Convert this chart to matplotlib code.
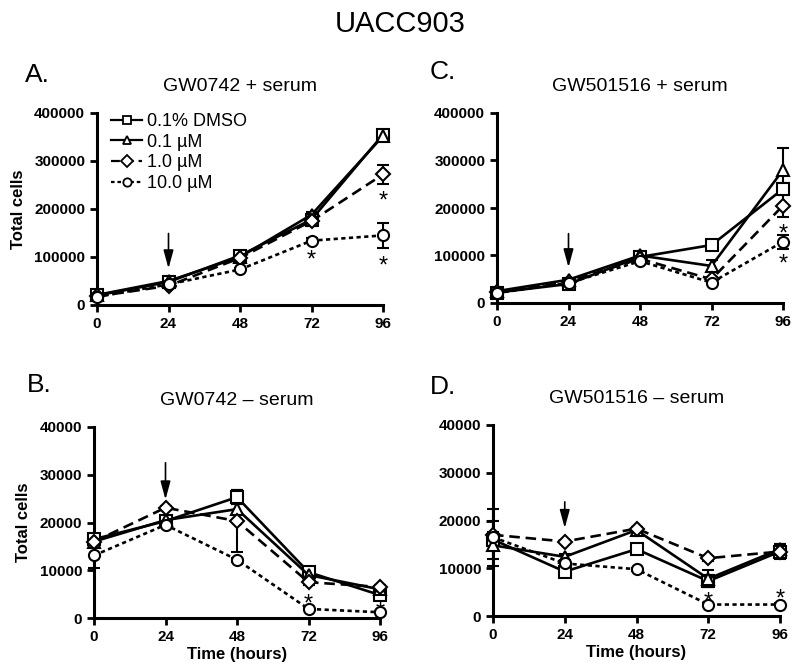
import numpy as np
import matplotlib
matplotlib.use("Agg")
import matplotlib.pyplot as plt
from matplotlib.lines import Line2D
from matplotlib.transforms import offset_copy

plt.rcParams['font.family'] = ['Liberation Sans', 'DejaVu Sans']

hours = [0, 24, 48, 72, 96]
labels = ["0.1% DMSO", "0.1 \u00b5M", "1.0 \u00b5M", "10.0 \u00b5M"]

# A. GW0742 + serum
a_dmso = [20000, 48000, 103000, 178000, 355000]
a_01 = [21000, 50000, 100000, 188000, 352000]
a_1 = [18000, 40000, 98000, 175000, 272000]
a_10 = [17000, 43000, 74000, 134000, 145000]
a_dmso_err = [3000, 4000, 5000, 14000, 6000]
a_01_err = [2000, 3000, 4000, 6000, 5000]
a_1_err = [2000, 3000, 4000, 5000, 19000]
a_10_err = [2000, 3000, 3000, 5000, 26000]

# C. GW501516 + serum
c_dmso = [22000, 40000, 97000, 122000, 240000]
c_01 = [25000, 49000, 100000, 78000, 280000]
c_1 = [23000, 45000, 93000, 50000, 205000]
c_10 = [21000, 42000, 88000, 43000, 129000]
c_dmso_err = [3000, 3000, 4000, 5000, 12000]
c_01_err = [3000, 4000, 4000, 13000, 47000]
c_1_err = [2000, 3000, 3000, 4000, 25000]
c_10_err = [2000, 3000, 3000, 4000, 15000]

# B. GW0742 - serum
b_dmso = [16500, 20300, 25300, 9600, 4800]
b_01 = [16000, 20500, 22800, 9000, 6000]
b_1 = [16000, 23100, 20300, 7500, 6500]
b_10 = [13100, 19500, 12200, 1900, 1200]
b_dmso_err = [800, 500, 1500, 600, 500]
b_01_err = [600, 700, 1000, 500, 400]
b_1_err = [500, 400, 6500, 500, 400]
b_10_err = [2600, 400, 400, 300, 200]

# D. GW501516 - serum
d_dmso = [16000, 9300, 14000, 7300, 13500]
d_01 = [14800, 12400, 18000, 7800, 14000]
d_1 = [17000, 15600, 18300, 12100, 13500]
d_10 = [16500, 11000, 9800, 2400, 2400]
d_dmso_err = [4000, 500, 600, 1200, 1500]
d_01_err = [1000, 600, 500, 1800, 1000]
d_1_err = [500, 400, 400, 500, 600]
d_10_err = [6000, 400, 300, 300, 300]

# significance stars (hour, y)
a_stars = [(72, 109000), (96, 232000), (96, 97000)]
c_stars = [(96, 161000), (96, 97000)]
b_stars = [(72, 4500), (96, 2800)]
d_stars = [(72, 4400), (96, 5100)]

# arrows (hour, y start, y end)
a_arrow = (24, 149000, 76000)
c_arrow = (24, 146000, 75000)
b_arrow = (24, 32500, 24800)
d_arrow = (24, 23900, 18400)

styles = [("-", "s"), ("-", "^"), ((0, (4, 2.2)), "D"), ((0, (1.6, 1.3)), "o")]
W, H = 800, 670


def make_axes(fig, x0, x1, y0, y1):
    return fig.add_axes([x0 / W, 1 - y0 / H, (x1 - x0) / W, (y0 - y1) / H])


def panel(ax, series, errs, ymax, title, stars, arrow, xlabel, ylabel):
    for (y, e, (ls, mk)) in zip(series, errs, styles):
        ms = 7 if mk == "D" else 8
        ax.errorbar(hours, y, yerr=e, color="black", ls=ls, lw=1.9,
                    marker=mk, ms=ms, mfc="white", mec="black", mew=1.5,
                    capsize=4, elinewidth=1.5, capthick=1.5,
                    clip_on=False, zorder=3)
    star_tr = offset_copy(ax.transData, fig=ax.figure, y=-8, units="dots")
    for sx, sy in stars:
        ax.text(sx, sy, "*", ha="center", va="center", fontsize=17,
                transform=star_tr)
    ax.annotate("", xy=(arrow[0], arrow[2]), xytext=(arrow[0], arrow[1]),
                arrowprops=dict(arrowstyle="-|>,head_width=0.3,head_length=1.1",
                                color="black", lw=1.2,
                                mutation_scale=10, shrinkA=0, shrinkB=0))
    ax.set_xlim(0, 96)
    ax.set_ylim(0, ymax)
    ax.set_xticks(hours)
    ax.set_yticks(np.linspace(0, ymax, 5))
    ax.set_yticklabels([str(int(v)) for v in np.linspace(0, ymax, 5)])
    for s in ["top", "right"]:
        ax.spines[s].set_visible(False)
    for s in ["left", "bottom"]:
        ax.spines[s].set_linewidth(2.2)
    ax.tick_params(direction="out", length=5, width=2, labelsize=11)
    for t in ax.get_xticklabels() + ax.get_yticklabels():
        t.set_fontweight("bold")
    ax.set_title(title, fontsize=14, pad=16)
    if xlabel:
        ax.set_xlabel(xlabel, fontsize=12, fontweight="bold", labelpad=2)
    if ylabel:
        ax.set_ylabel(ylabel, fontsize=12, fontweight="bold", labelpad=6)


fig = plt.figure(figsize=(8, 6.7), dpi=100)

axA = make_axes(fig, 97, 383, 305, 113)
panel(axA, [a_dmso, a_01, a_1, a_10], [a_dmso_err, a_01_err, a_1_err, a_10_err],
      400000, "GW0742 + serum", a_stars, a_arrow, None, "Total cells")
handles = [Line2D([], [], color="black", ls=ls, lw=1.6, marker=mk,
                  ms=6, mfc="white", mec="black", mew=1.3)
           for ls, mk in styles]
axA.legend(handles, labels, loc="upper left", bbox_to_anchor=(0.05, 1.0),
           frameon=False, fontsize=13, handlelength=1.7, handletextpad=0.25,
           labelspacing=0.2, borderpad=0, borderaxespad=0)

axC = make_axes(fig, 497, 783, 303, 113)
panel(axC, [c_dmso, c_01, c_1, c_10], [c_dmso_err, c_01_err, c_1_err, c_10_err],
      400000, "GW501516 + serum", c_stars, c_arrow, None, None)

axB = make_axes(fig, 94, 380, 618, 427)
panel(axB, [b_dmso, b_01, b_1, b_10], [b_dmso_err, b_01_err, b_1_err, b_10_err],
      40000, "GW0742 \u2013 serum", b_stars, b_arrow, "Time (hours)", "Total cells")

axD = make_axes(fig, 493, 780, 616, 425)
panel(axD, [d_dmso, d_01, d_1, d_10], [d_dmso_err, d_01_err, d_1_err, d_10_err],
      40000, "GW501516 \u2013 serum", d_stars, d_arrow, "Time (hours)", None)

fig.text(0.5, 1 - 24 / H, "UACC903", ha="center", va="center", fontsize=21)
fig.text(25 / W, 1 - 75 / H, "A.", ha="left", va="center", fontsize=19)
fig.text(430 / W, 1 - 72 / H, "C.", ha="left", va="center", fontsize=19)
fig.text(27 / W, 1 - 385 / H, "B.", ha="left", va="center", fontsize=19)
fig.text(430 / W, 1 - 387 / H, "D.", ha="left", va="center", fontsize=19)

fig.savefig("out.png", dpi=100)
